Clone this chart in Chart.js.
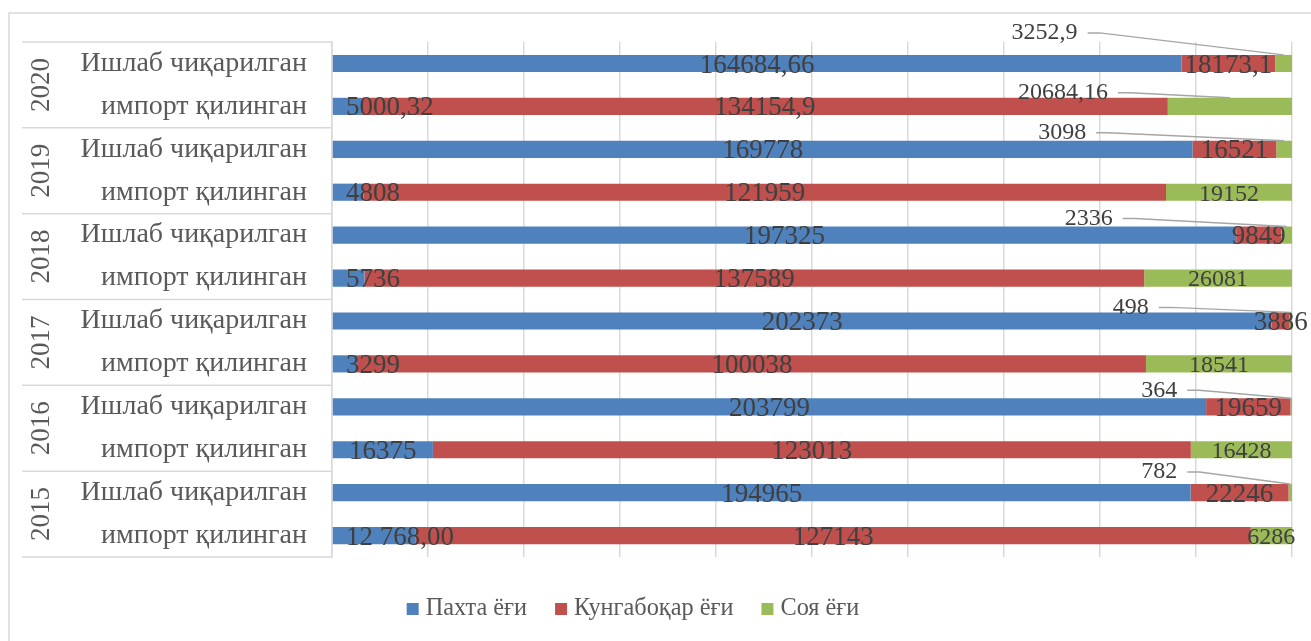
<!DOCTYPE html>
<html>
<head>
<meta charset="utf-8">
<script src="https://cdn.jsdelivr.net/npm/chart.js@4/dist/chart.umd.min.js"></script>
<style>
    html, body { margin: 0; padding: 0; background: #fff; }
    #wrap { width: 1311px; height: 641px; }
</style>
</head>
<body>
<div id="wrap"><canvas id="chart" width="1311" height="641"></canvas></div>
<script>
// --- data (values written as in the source table) ---
const years = ['2020', '2019', '2018', '2017', '2016', '2015'];
const rowKinds = ['Ишлаб чиқарилган', 'импорт қилинган'];
const seriesNames = ['Пахта ёғи', 'Кунгабоқар ёғи', 'Соя ёғи'];

// rows top to bottom: 2020 prod, 2020 import, 2019 prod, ... 2015 import
const cottonOil = ['164684,66', '5000,32', '169778', '4808', '197325', '5736', '202373', '3299', '203799', '16375', '194965', '12 768,00'];
const sunflowerOil = ['18173,1', '134154,9', '16521', '121959', '9849', '137589', '3886', '100038', '19659', '123013', '22246', '127143'];
const soyOil = ['3252,9', '20684,16', '3098', '19152', '2336', '26081', '498', '18541', '364', '16428', '782', '6286'];

const colors = ['#4F81BD', '#C0504D', '#9BBB59'];

// soy labels that sit outside the bar with a leader line: [shift left, lift above bar]
const soyCallouts = { 0: [206, 22], 1: [122, 5], 2: [198, 8], 4: [174, 8], 6: [142, 5], 8: [114, 8], 10: [113, 12] };

const FONT = "'Liberation Serif', 'Times New Roman', 'DejaVu Serif', serif";

const toNum = s => parseFloat(s.replace(/\s/g, '').replace(',', '.'));

const rowLabels = [];
years.forEach(() => rowKinds.forEach(k => rowLabels.push(k)));

const rawSeries = [cottonOil, sunflowerOil, soyOil];
const totals = cottonOil.map((_, i) => rawSeries.reduce((s, arr) => s + toNum(arr[i]), 0));
const pctSeries = rawSeries.map(arr => arr.map((v, i) => toNum(v) / totals[i] * 100));

const frameAndTable = {
    id: 'frameAndTable',
    beforeDraw(chart) {
        const ctx = chart.ctx;
        const area = chart.chartArea;
        const y = chart.scales.y;
        ctx.save();
        // outer frame
        ctx.strokeStyle = '#d9d9d9';
        ctx.lineWidth = 1.5;
        ctx.beginPath();
        ctx.moveTo(9, chart.height + 2);
        ctx.lineTo(9, 13);
        ctx.lineTo(chart.width + 2, 13);
        ctx.stroke();

        // table lines on the category side
        const step = y.getPixelForValue(1) - y.getPixelForValue(0);
        for (let g = 0; g <= years.length; g++) {
            const py = y.getPixelForValue(g * 2) - step / 2;
            ctx.beginPath();
            ctx.moveTo(22, py);
            ctx.lineTo(area.left, py);
            ctx.stroke();
        }

        // year labels, rotated
        ctx.fillStyle = '#595959';
        ctx.font = `27px ${FONT}`;
        ctx.textAlign = 'center';
        ctx.textBaseline = 'middle';
        years.forEach((yr, g) => {
            const cy = (y.getPixelForValue(g * 2) + y.getPixelForValue(g * 2 + 1)) / 2;
            ctx.save();
            ctx.translate(42, cy);
            ctx.rotate(-Math.PI / 2);
            ctx.fillText(yr, 0, 0);
            ctx.restore();
        });
        ctx.restore();
    }
};

const valueLabels = {
    id: 'valueLabels',
    afterDatasetsDraw(chart) {
        const ctx = chart.ctx;
        const area = chart.chartArea;
        ctx.save();
        ctx.fillStyle = '#404040';
        ctx.textBaseline = 'middle';
        rawSeries.forEach((arr, di) => {
            const meta = chart.getDatasetMeta(di);
            ctx.font = di === 2 ? `24px ${FONT}` : `27px ${FONT}`;
            meta.data.forEach((el, i) => {
                const text = arr[i];
                const w = ctx.measureText(text).width;
                const cx = (el.x + el.base) / 2;
                const callout = di === 2 ? soyCallouts[i] : null;
                if (callout) {
                    const top = el.y - el.height / 2;
                    const right = cx - callout[0];
                    const ly = top - callout[1];
                    ctx.textAlign = 'right';
                    ctx.fillText(text, right, ly);
                    ctx.strokeStyle = '#a6a6a6';
                    ctx.lineWidth = 1.5;
                    ctx.beginPath();
                    ctx.moveTo(right + 10, ly);
                    ctx.lineTo(right + 22, ly);
                    ctx.lineTo(cx, top);
                    ctx.stroke();
                    return;
                }
                let x = cx;
                if (x - w / 2 < area.left + 14) x = area.left + 14 + w / 2;
                ctx.textAlign = 'center';
                ctx.fillText(text, x, el.y + 2);
            });
        });
        ctx.restore();
    }
};

const bottomLegend = {
    id: 'bottomLegend',
    afterDraw(chart) {
        const ctx = chart.ctx;
        ctx.save();
        ctx.font = `24.3px ${FONT}`;
        ctx.textBaseline = 'middle';
        ctx.textAlign = 'left';
        const box = 12, gap = 7, itemGap = 28;
        const widths = seriesNames.map(n => box + gap + ctx.measureText(n).width);
        const total = widths.reduce((a, b) => a + b, 0) + itemGap * (widths.length - 1);
        let x = 633 - total / 2;
        const cy = 609;
        seriesNames.forEach((n, i) => {
            ctx.fillStyle = colors[i];
            ctx.fillRect(x, cy - box / 2, box, box);
            ctx.fillStyle = '#595959';
            ctx.fillText(n, x + box + gap, cy);
            x += widths[i] + itemGap;
        });
        ctx.restore();
    }
};

new Chart(document.getElementById('chart'), {
    type: 'bar',
    data: {
        labels: rowLabels,
        datasets: seriesNames.map((name, i) => ({
            label: name,
            data: pctSeries[i],
            backgroundColor: colors[i],
            borderWidth: 0,
            barPercentage: 0.4,
            categoryPercentage: 1
        }))
    },
    options: {
        indexAxis: 'y',
        responsive: false,
        animation: false,
        layout: { padding: { left: 0, top: 42, right: 19, bottom: 84 } },
        plugins: {
            legend: { display: false },
            tooltip: { enabled: false }
        },
        scales: {
            x: {
                stacked: true,
                min: 0,
                max: 100,
                ticks: { display: false, stepSize: 10 },
                grid: { color: '#d9d9d9', lineWidth: 1.5, drawTicks: false },
                border: { display: false },
                afterFit: s => { s.height = 0; }
            },
            y: {
                stacked: true,
                grid: { display: false, drawTicks: false },
                border: { display: true, color: '#d9d9d9', width: 1.5 },
                ticks: { color: '#595959', font: { family: FONT, size: 28 }, padding: 25 },
                afterFit: s => { s.width = 332; }
            }
        }
    },
    plugins: [frameAndTable, valueLabels, bottomLegend]
});
</script>
</body>
</html>
